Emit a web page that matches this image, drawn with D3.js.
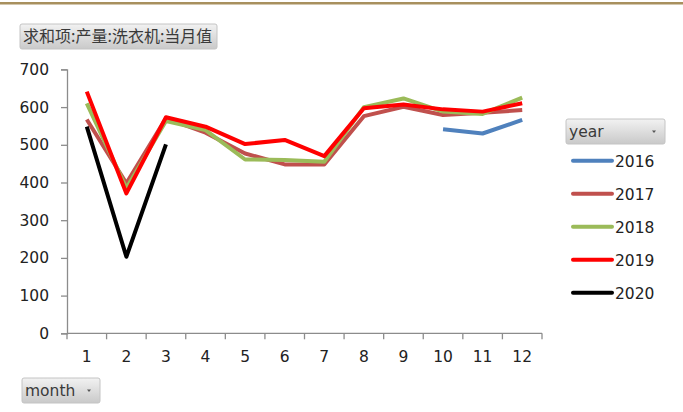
<!DOCTYPE html>
<html>
<head>
<meta charset="utf-8">
<script src="https://cdn.jsdelivr.net/npm/d3@7"></script>
<style>
  body { margin: 0; background: #fff; }
  svg { display: block; font-family: "DejaVu Sans", "Noto Sans CJK SC", sans-serif; }
</style>
</head>
<body>
<div id="chart"></div>
<script>
// ── Data ─────────────────────────────────────────────
const months = [1, 2, 3, 4, 5, 6, 7, 8, 9, 10, 11, 12];
const years = ['2016', '2017', '2018', '2019', '2020'];
const yTicks = [0, 100, 200, 300, 400, 500, 600, 700];

const v2016 = [null, null, null, null, null, null, null, null, null, 541, 530, 566];
const v2017 = [567, 398, 570, 532, 477, 448, 448, 576, 601, 579, 585, 592];
const v2018 = [610, 385, 563, 539, 461, 460, 455, 600, 623, 588, 582, 625];
const v2019 = [641, 371, 573, 548, 502, 513, 470, 597, 607, 594, 588, 610];
const v2020 = [548, 203, 501, null, null, null, null, null, null, null, null, null];

const seriesValues = [v2016, v2017, v2018, v2019, v2020];
const colors = ['#4F81BD', '#C0504D', '#9BBB59', '#FF0000', '#000000'];

// ── Layout ───────────────────────────────────────────
const W = 683, H = 412;
const plot = { left: 67, right: 542, top: 69.4, bottom: 333.3 };
const fs = 15.5;

const svg = d3.select('#chart').append('svg')
  .attr('width', W).attr('height', H);

const defs = svg.append('defs');
const grad = defs.append('linearGradient').attr('id', 'btn')
  .attr('x1', 0).attr('y1', 0).attr('x2', 0).attr('y2', 1);
grad.append('stop').attr('offset', '0%').attr('stop-color', '#f2f2f2');
grad.append('stop').attr('offset', '100%').attr('stop-color', '#c9c9c9');

// top gold rule
svg.append('rect').attr('x', 0).attr('y', 2).attr('width', W).attr('height', 2.5)
  .attr('fill', '#a8905e');

// field button helper
function button(x, y, w, h, label, arrow, size, family) {
  const g = svg.append('g').attr('transform', `translate(${x},${y})`);
  g.append('rect').attr('width', w).attr('height', h).attr('rx', 2)
    .attr('fill', 'url(#btn)').attr('stroke', '#c4c4c4');
  g.append('text').attr('x', 3).attr('y', h / 2 + size * 0.36)
    .attr('font-size', size).attr('fill', '#3a3a3a')
    .attr('font-family', family || null).text(label);
  if (arrow) {
    g.append('path')
      .attr('d', `M${w - 13},${h / 2 - 1} l4,0 l-2,2.5 z`)
      .attr('fill', '#555');
  }
}

button(20, 24, 197, 25, '求和项:产量:洗衣机:当月值', false, 16, '"Noto Sans CJK SC", sans-serif');
button(566, 119, 99, 25, 'year', true, fs);
button(22, 378, 78, 25, 'month', true, fs);

// ── Scales & axes ────────────────────────────────────
const x = d3.scaleBand().domain(months).range([plot.left, plot.right]);
const y = d3.scaleLinear().domain([0, 700]).range([plot.bottom, plot.top]);

const axisColor = '#8c8c8c';

const yAxis = svg.append('g')
  .attr('transform', `translate(${plot.left},0)`)
  .call(d3.axisLeft(y).tickValues(yTicks).tickSize(6).tickPadding(12));
yAxis.select('.domain').attr('stroke', axisColor).attr('stroke-width', 1.3);
yAxis.selectAll('.tick line').attr('stroke', axisColor).attr('stroke-width', 1.3);
yAxis.selectAll('text').attr('font-size', fs).attr('fill', '#222')
  .attr('font-family', '"DejaVu Sans", sans-serif');

// x axis: ticks at band boundaries, labels at centers
const xg = svg.append('g').attr('transform', `translate(0,${plot.bottom})`);
xg.append('line').attr('x1', plot.left).attr('x2', plot.right)
  .attr('stroke', axisColor).attr('stroke-width', 1.3);
xg.selectAll('.tk').data(months.concat(['end'])).join('line')
  .attr('class', 'tk')
  .attr('x1', (d, i) => plot.left + i * x.bandwidth())
  .attr('x2', (d, i) => plot.left + i * x.bandwidth())
  .attr('y1', 0).attr('y2', 6)
  .attr('stroke', axisColor).attr('stroke-width', 1.3);
xg.selectAll('.lbl').data(months).join('text')
  .attr('class', 'lbl')
  .attr('x', d => x(d) + x.bandwidth() / 2)
  .attr('y', 29)
  .attr('text-anchor', 'middle')
  .attr('font-size', fs).attr('fill', '#222')
  .text(d => d);

// ── Lines ────────────────────────────────────────────
const line = d3.line()
  .defined(d => d.v != null)
  .x(d => x(d.m) + x.bandwidth() / 2)
  .y(d => y(d.v));

seriesValues.forEach((vals, i) => {
  const pts = months.map((m, j) => ({ m, v: vals[j] }));
  svg.append('path')
    .datum(pts)
    .attr('d', line)
    .attr('fill', 'none')
    .attr('stroke', colors[i])
    .attr('stroke-width', 4)
    .attr('stroke-linejoin', 'round');
});

// ── Legend ───────────────────────────────────────────
const legend = svg.append('g');
years.forEach((yr, i) => {
  const cy = 160.7 + i * 33;
  legend.append('line')
    .attr('x1', 573).attr('x2', 612).attr('y1', cy).attr('y2', cy)
    .attr('stroke', colors[i]).attr('stroke-width', 4).attr('stroke-linecap', 'round');
  legend.append('text')
    .attr('x', 615).attr('y', cy + 6)
    .attr('font-size', fs).attr('fill', '#222')
    .text(yr);
});
</script>
</body>
</html>
